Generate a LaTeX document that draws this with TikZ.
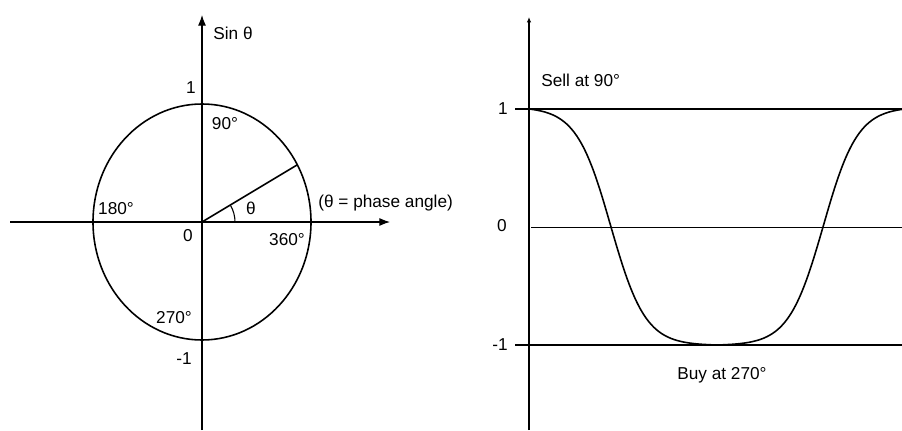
\documentclass[tikz,border=0pt]{standalone}
\usepackage{fontspec}
\setmainfont{Liberation Sans}
\usetikzlibrary{arrows.meta,calc}

\begin{document}
\begin{tikzpicture}[
    x=0.02cm, y=0.02cm,
    lbl/.style={inner sep=0pt, font=\fontsize{9.8}{12}\selectfont},
    axis/.style={line width=0.6pt, -{Latex[length=6pt,width=4.5pt]}},
    axisthin/.style={line width=0.6pt, -{Latex[length=3pt,width=2.5pt]}},
    curve/.style={line width=0.9pt},
    level/.style={line width=1.1pt},
]
    \useasboundingbox (0,0) rectangle (902,430);

    % Phase circle
    \coordinate (O) at (202,208);
    \coordinate (xl) at (10,208);
    \coordinate (xr) at (390,208);
    \coordinate (yb) at (202,0);
    \coordinate (yt) at (202,415);
    \draw[axis] (xl) -- (xr);
    \draw[axis] (yb) -- (yt);
    \draw[curve] (O) ellipse [x radius=109, y radius=118];
    \coordinate (P) at ($(O)+(29:109 and 118)$);
    \draw[curve] (O) -- (P);
    \draw[line width=0.6pt] ($(O)+(33,0)$) arc[start angle=0, end angle=30, radius=33];

    \node[lbl, anchor=west] (sin) at (213,397) {Sin θ};
    \node[lbl] (one) at (191,342) {1};
    \node[lbl] (d90) at (225,306) {90°};
    \node[lbl] (d180) at (116,221) {180°};
    \node[lbl] (zero) at (188,194) {0};
    \node[lbl] (d360) at (287,190) {360°};
    \node[lbl] (theta) at (251,222) {θ};
    \node[lbl] (d270) at (174,112) {270°};
    \node[lbl] (mone) at (184,71) {-1};
    \node[lbl, anchor=base west] (phase) at (318,223) {(θ = phase angle)};

    % Sine wave
    \coordinate (rb) at (529,0);
    \coordinate (rt) at (529,413);
    \draw[axisthin] (rb) -- (rt);
    \coordinate (top) at (515,321);
    \coordinate (topend) at (902,321);
    \coordinate (mid) at (531,203);
    \coordinate (midend) at (902,203);
    \coordinate (bot) at (515,85);
    \coordinate (botend) at (902,85);
    \draw[level] (top) -- (topend);
    \draw[line width=0.4pt] (mid) -- (midend);
    \draw[level] (bot) -- (botend);
    \draw[curve] plot[domain=529:902, samples=150, smooth]
        (\x, {203 + 118*ifthenelse(abs(\x-717)>106,
            tanh(0.029*(abs(\x-717)-106))/tanh(0.029*82),
            tanh(0.029*(abs(\x-717)-106))/tanh(0.029*106))});

    \node[lbl] (rone) at (503,321) {1};
    \node[lbl] (rzero) at (502,204) {0};
    \node[lbl] (rmone) at (500,85) {-1};
    \node[lbl, anchor=west] (sell) at (541,350) {Sell at 90°};
    \node[lbl, anchor=base west] (buy) at (677,51) {Buy at 270°};
\end{tikzpicture}
\end{document}
